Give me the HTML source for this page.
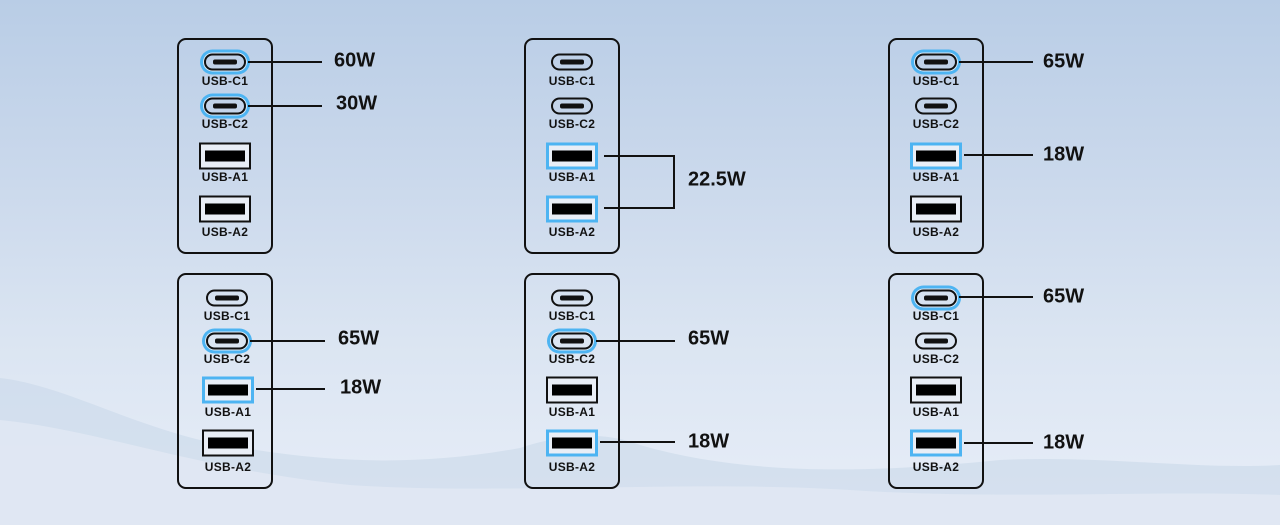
<!DOCTYPE html>
<html><head><meta charset="utf-8"><style>
*{margin:0;padding:0;box-sizing:border-box}
body{width:1280px;height:525px;overflow:hidden;position:relative;font-family:"Liberation Sans",sans-serif;
background:linear-gradient(180deg,#b9cde6 0%,#cbd9ec 35%,#dbe5f2 65%,#e8eef8 100%)}
.box{position:absolute;width:96px;height:216px;border:2px solid #111;border-radius:9px}
.c,.a,.lb{position:absolute;transform:translate(-50%,-50%)}
.c{width:42px;height:17px;border:2px solid #111;border-radius:9px}
.c::after{content:"";position:absolute;left:7px;right:7px;top:4px;height:5px;background:#111;border-radius:2px}
.c.h{box-shadow:0 0 0 1px #dde8f4,0 0 0 4px #4db4f2}
.a{width:52px;height:27px;border:2px solid #111;background:#e9eef6}
.a::after{content:"";position:absolute;left:4px;right:4px;top:6px;height:11px;background:#000}
.a.h{border:3px solid #4db4f2}
.a.h::after{left:3px;right:3px;top:5px}
.lb{font-size:12px;font-weight:bold;color:#111;white-space:nowrap;letter-spacing:.3px}
.ln{position:absolute;height:2px;background:#111}
.vl{position:absolute;width:2px;background:#111}
.w{position:absolute;font-size:20px;font-weight:bold;color:#111;transform:translateY(-50%)}
</style></head><body>
<svg width="1280" height="525" style="position:absolute;left:0;top:0">
<path d="M0 378 C60 385 120 420 200 440 C300 460 400 470 520 448 C560 435 600 430 640 445 C760 480 900 470 1000 460 C1100 455 1200 470 1280 465 L1280 525 L0 525Z" fill="#cad8ea" opacity=".6"/>
<path d="M0 420 C100 430 200 470 350 485 C500 495 700 480 850 490 C1000 500 1150 490 1280 495 L1280 525 L0 525Z" fill="#e2e9f4" opacity=".8"/>
</svg>

<div class="box" style="left:177px;top:38px"></div>
<div class="c h" style="left:225px;top:62px"></div><div class="lb" style="left:225px;top:81px">USB-C1</div>
<div class="c h" style="left:225px;top:106px"></div><div class="lb" style="left:225px;top:124px">USB-C2</div>
<div class="a" style="left:225px;top:156px"></div><div class="lb" style="left:225px;top:177px">USB-A1</div>
<div class="a" style="left:225px;top:209px"></div><div class="lb" style="left:225px;top:232px">USB-A2</div>
<div class="ln" style="left:248px;top:61px;width:74px"></div><div class="w" style="left:334px;top:61px">60W</div>
<div class="ln" style="left:248px;top:105px;width:74px"></div><div class="w" style="left:336px;top:104px">30W</div>

<div class="box" style="left:524px;top:38px"></div>
<div class="c" style="left:572px;top:62px"></div><div class="lb" style="left:572px;top:81px">USB-C1</div>
<div class="c" style="left:572px;top:106px"></div><div class="lb" style="left:572px;top:124px">USB-C2</div>
<div class="a h" style="left:572px;top:156px"></div><div class="lb" style="left:572px;top:177px">USB-A1</div>
<div class="a h" style="left:572px;top:209px"></div><div class="lb" style="left:572px;top:232px">USB-A2</div>
<div class="ln" style="left:604px;top:155px;width:71px"></div>
<div class="ln" style="left:604px;top:207px;width:71px"></div>
<div class="vl" style="left:673px;top:155px;height:54px"></div>
<div class="w" style="left:688px;top:180px">22.5W</div>

<div class="box" style="left:888px;top:38px"></div>
<div class="c h" style="left:936px;top:62px"></div><div class="lb" style="left:936px;top:81px">USB-C1</div>
<div class="c" style="left:936px;top:106px"></div><div class="lb" style="left:936px;top:124px">USB-C2</div>
<div class="a h" style="left:936px;top:156px"></div><div class="lb" style="left:936px;top:177px">USB-A1</div>
<div class="a" style="left:936px;top:209px"></div><div class="lb" style="left:936px;top:232px">USB-A2</div>
<div class="ln" style="left:959px;top:61px;width:74px"></div><div class="w" style="left:1043px;top:62px">65W</div>
<div class="ln" style="left:964px;top:154px;width:69px"></div><div class="w" style="left:1043px;top:155px">18W</div>

<div class="box" style="left:177px;top:273px"></div>
<div class="c" style="left:227px;top:298px"></div><div class="lb" style="left:227px;top:316px">USB-C1</div>
<div class="c h" style="left:227px;top:341px"></div><div class="lb" style="left:227px;top:359px">USB-C2</div>
<div class="a h" style="left:228px;top:390px"></div><div class="lb" style="left:228px;top:412px">USB-A1</div>
<div class="a" style="left:228px;top:443px"></div><div class="lb" style="left:228px;top:467px">USB-A2</div>
<div class="ln" style="left:250px;top:340px;width:75px"></div><div class="w" style="left:338px;top:339px">65W</div>
<div class="ln" style="left:256px;top:388px;width:69px"></div><div class="w" style="left:340px;top:388px">18W</div>

<div class="box" style="left:524px;top:273px"></div>
<div class="c" style="left:572px;top:298px"></div><div class="lb" style="left:572px;top:316px">USB-C1</div>
<div class="c h" style="left:572px;top:341px"></div><div class="lb" style="left:572px;top:359px">USB-C2</div>
<div class="a" style="left:572px;top:390px"></div><div class="lb" style="left:572px;top:412px">USB-A1</div>
<div class="a h" style="left:572px;top:443px"></div><div class="lb" style="left:572px;top:467px">USB-A2</div>
<div class="ln" style="left:596px;top:340px;width:79px"></div><div class="w" style="left:688px;top:339px">65W</div>
<div class="ln" style="left:600px;top:441px;width:75px"></div><div class="w" style="left:688px;top:442px">18W</div>

<div class="box" style="left:888px;top:273px"></div>
<div class="c h" style="left:936px;top:298px"></div><div class="lb" style="left:936px;top:316px">USB-C1</div>
<div class="c" style="left:936px;top:341px"></div><div class="lb" style="left:936px;top:359px">USB-C2</div>
<div class="a" style="left:936px;top:390px"></div><div class="lb" style="left:936px;top:412px">USB-A1</div>
<div class="a h" style="left:936px;top:443px"></div><div class="lb" style="left:936px;top:467px">USB-A2</div>
<div class="ln" style="left:959px;top:296px;width:74px"></div><div class="w" style="left:1043px;top:297px">65W</div>
<div class="ln" style="left:964px;top:442px;width:69px"></div><div class="w" style="left:1043px;top:443px">18W</div>
</body></html>
